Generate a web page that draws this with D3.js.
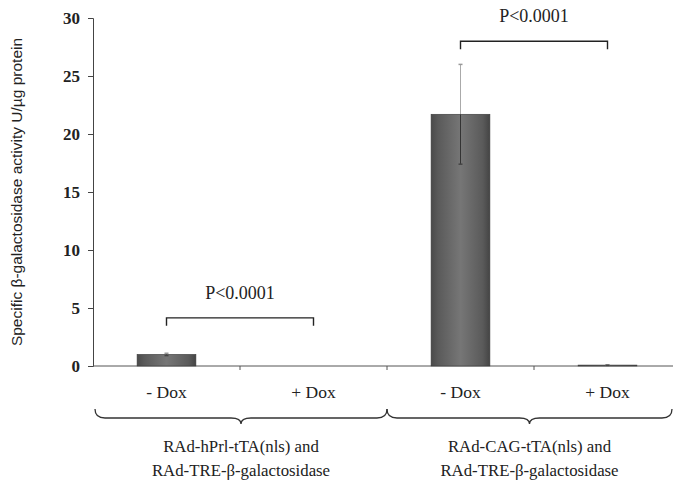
<!DOCTYPE html>
<html><head><meta charset="utf-8">
<script src="https://cdn.jsdelivr.net/npm/d3@7"></script>
<style>body{margin:0;background:#fff}svg{display:block}</style>
</head><body>
<svg id="c" width="673" height="485"></svg>
<script>
const categories = ["- Dox", "+ Dox", "- Dox", "+ Dox"];
const values = [1.0, 0.0, 21.7, 0.08];
const errors = [0.1, 0.0, 4.3, 0.02];
const yTicks = [0, 5, 10, 15, 20, 25, 30];
const groupLabels = [["RAd-hPrl-tTA(nls) and", "RAd-TRE-β-galactosidase"], ["RAd-CAG-tTA(nls) and", "RAd-TRE-β-galactosidase"]];
const groupMembers = [[0, 1], [2, 3]];
const sigLabels = ["P<0.0001", "P<0.0001"];
const sigHeights = [4.15, 28.0];
const yTitle = "Specific β-galactosidase activity U/µg protein";

const svg = d3.select("#c");
const serif = "'Liberation Serif', 'Times New Roman', serif";
const sans = "'Liberation Sans', Arial, sans-serif";

const x = d3.scaleBand().domain(d3.range(categories.length)).range([93, 681]).paddingInner(0.6).paddingOuter(0.3);
const y = d3.scaleLinear().domain([0, 30]).range([366, 18]);
const step = x.step();
const bandStart = i => x(i) - x.paddingInner() * step / 2;

const defs = svg.append("defs");
const g = defs.append("linearGradient").attr("id", "barg").attr("x1", "0").attr("x2", "1").attr("y1", "0").attr("y2", "0");
[[0, "#4a4a4a"], [0.12, "#5a5a5a"], [0.5, "#767676"], [0.88, "#5a5a5a"], [1, "#444"]].forEach(([o, c]) =>
  g.append("stop").attr("offset", o).attr("stop-color", c));

// y axis
const yAxis = d3.axisLeft(y).tickValues(yTicks).tickSize(5).tickPadding(8);
const ya = svg.append("g").attr("transform", "translate(93,0)").call(yAxis);
ya.select(".domain").attr("stroke", "#444").attr("stroke-width", 1);
ya.selectAll(".tick line").attr("stroke", "#444");
ya.selectAll("text").attr("font-family", serif).attr("font-size", 17).attr("font-weight", "bold").attr("fill", "#222");

// x axis line with boundary ticks
const xAxis = d3.axisBottom(x).tickSize(0).tickFormat("");
const xa = svg.append("g").attr("transform", `translate(0,${y(0)})`).call(xAxis);
xa.select(".domain").attr("d", `M93,0H673`).attr("stroke", "#555").attr("stroke-width", 1);
xa.selectAll(".tick").remove();
d3.range(1, categories.length).forEach(i => {
  xa.append("line").attr("x1", bandStart(i)).attr("x2", bandStart(i)).attr("y1", 0).attr("y2", 4).attr("stroke", "#555");
});

// bars
svg.append("g").selectAll("rect").data(values).join("rect")
  .attr("x", (d, i) => x(i)).attr("width", x.bandwidth())
  .attr("y", d => y(d)).attr("height", d => y(0) - y(d))
  .attr("fill", "url(#barg)").attr("stroke", "#3a3a3a").attr("stroke-width", 0.6);

// error bars
const eb = svg.append("g");
values.forEach((v, i) => {
  if (errors[i] <= 0) return;
  const cx = x(i) + x.bandwidth() / 2;
  eb.append("line").attr("x1", cx).attr("x2", cx).attr("y1", y(v + errors[i])).attr("y2", y(v)).attr("stroke", "#aaa").attr("stroke-width", 1);
  eb.append("line").attr("x1", cx).attr("x2", cx).attr("y1", y(v)).attr("y2", y(v - errors[i])).attr("stroke", "#333").attr("stroke-width", 1);
  eb.append("line").attr("x1", cx - 2).attr("x2", cx + 2).attr("y1", y(v + errors[i])).attr("y2", y(v + errors[i])).attr("stroke", "#999").attr("stroke-width", 1.5);
  eb.append("line").attr("x1", cx - 2).attr("x2", cx + 2).attr("y1", y(v - errors[i])).attr("y2", y(v - errors[i])).attr("stroke", "#444").attr("stroke-width", 1.5);
});

// significance brackets
groupMembers.forEach((m, k) => {
  const x1 = x(m[0]) + x.bandwidth() / 2, x2 = x(m[1]) + x.bandwidth() / 2;
  const by = y(sigHeights[k]);
  svg.append("path").attr("d", `M${x1},${by + 8}V${by}H${x2}V${by + 8}`).attr("fill", "none").attr("stroke", "#222").attr("stroke-width", 1.4);
  svg.append("text").attr("x", (x1 + x2) / 2).attr("y", by - 19).attr("text-anchor", "middle")
    .attr("font-family", serif).attr("font-size", 18).attr("fill", "#222").text(sigLabels[k]);
});

// category labels
svg.append("g").selectAll("text").data(categories).join("text")
  .attr("x", (d, i) => x(i) + x.bandwidth() / 2).attr("y", 398).attr("text-anchor", "middle")
  .attr("font-family", serif).attr("font-size", 17.5).attr("fill", "#222").text(d => d);

// braces
function brace(x1, x2, y0, ym, tip) {
  const xm = (x1 + x2) / 2, r = 10;
  return `M${x1},${y0} Q${x1},${ym} ${x1 + r},${ym} L${xm - r},${ym} Q${xm},${ym} ${xm},${tip} Q${xm},${ym} ${xm + r},${ym} L${x2 - r},${ym} Q${x2},${ym} ${x2},${y0}`;
}
const gEdges = [[95, bandStart(2)], [bandStart(2), 672]];
gEdges.forEach(([a, b], k) => {
  svg.append("path").attr("d", brace(a, b, 409, 418, 424)).attr("fill", "none").attr("stroke", "#333").attr("stroke-width", 1.3);
  const t = svg.append("text").attr("x", (a + b) / 2).attr("text-anchor", "middle")
    .attr("font-family", serif).attr("font-size", 16.8).attr("fill", "#222");
  groupLabels[k].forEach((line, j) => t.append("tspan").attr("x", (a + b) / 2).attr("y", 452 + j * 24).text(line));
});

// y title
svg.append("text").attr("transform", `translate(22,192) rotate(-90)`).attr("text-anchor", "middle")
  .attr("font-family", sans).attr("font-size", 15.5).attr("fill", "#222").text(yTitle);
</script>
</body></html>
